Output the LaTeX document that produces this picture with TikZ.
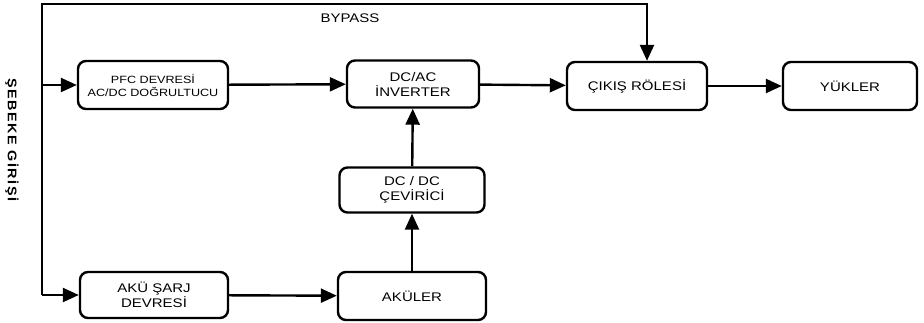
\documentclass[tikz,border=0pt]{standalone}
\usepackage{fontspec}
\setmainfont[FakeStretch=1.2]{Liberation Sans}
\newfontfamily\yanfont[FakeStretch=1.15,LetterSpace=12]{Liberation Sans}
\usetikzlibrary{arrows.meta}

\begin{document}
\begin{tikzpicture}[x=1pt, y=1pt, line width=2.4pt,
  blok/.style={draw, rounded corners=8pt, align=center, font=\fontsize{12.5}{15}\selectfont, inner sep=0pt},
  ok/.style={-{Triangle[length=16pt,width=14pt]}}]
  \useasboundingbox (0,0) rectangle (924,-323);
  % kutular
  \node[blok, minimum width=150, minimum height=48, font=\fontsize{10.5}{13}\selectfont] (pfc) at (153,-85) {PFC DEVRES\.I\\AC/DC DO\u{G}RULTUCU};
  \node[blok, minimum width=148, minimum height=46] (sarj) at (154,-295) {AK\"U \c{S}ARJ\\DEVRES\.I};
  \node[blok, minimum width=132, minimum height=47] (inv) at (413,-84) {DC/AC\\\.INVERTER};
  \node[blok, minimum width=145, minimum height=45] (dcdc) at (412,-190) {DC / DC\\\c{C}EV\.IR\.IC\.I};
  \node[blok, minimum width=148, minimum height=48] (aku) at (412,-296) {AK\"ULER};
  \node[blok, minimum width=140, minimum height=48] (cikis) at (637,-86) {\c{C}IKI\c{S} R\"OLES\.I};
  \node[blok, minimum width=134, minimum height=48] (yuk) at (850,-86) {Y\"UKLER};
  % yazilar
  \node[rotate=-90, font=\yanfont\bfseries\fontsize{12.5}{14}\selectfont] (sebekeyazi) at (12,-140) {\c{S}EBEKE G\.IR\.I\c{S}\.I};
  \node[font=\fontsize{12.5}{14}\selectfont] (bypass) at (350,-18) {BYPASS};
  % baglantilar
  \coordinate (dal) at (42,-295);
  \coordinate (ust) at (647,-4);
  \draw[ok] (dal) |- (ust) -- (ust |- cikis.north);
  \draw[ok] (42,-85) -- (pfc.west);
  \draw[ok] (dal) -- (sarj.west);
  \draw[ok] (pfc) -- (inv);
  \draw[ok] (sarj) -- (aku);
  \draw[ok] (aku) -- (dcdc);
  \draw[ok] (dcdc) -- (inv);
  \draw[ok] (inv) -- (cikis);
  \draw[ok] (cikis) -- (yuk);
\end{tikzpicture}
\end{document}
